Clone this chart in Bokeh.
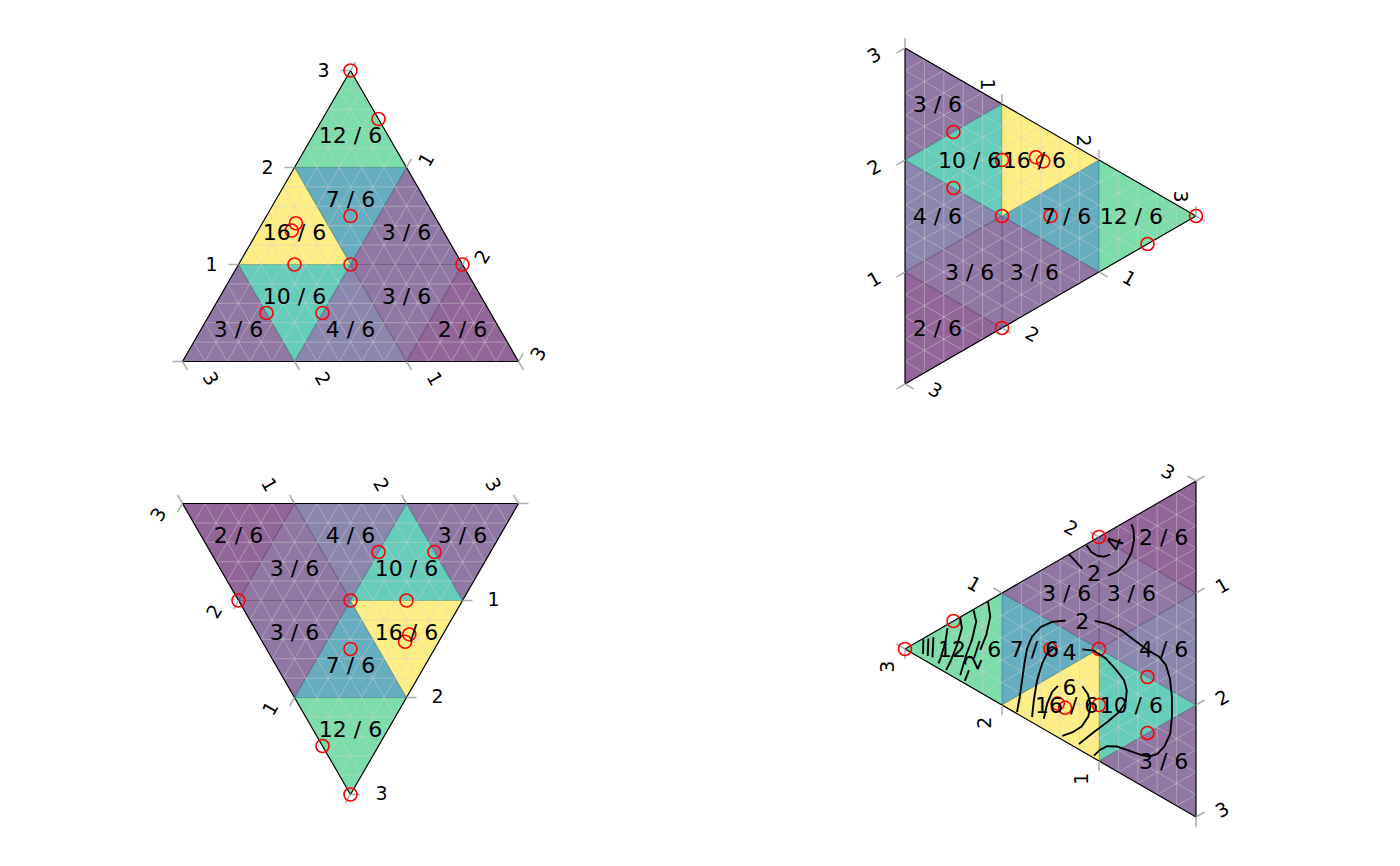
import numpy as np
from bokeh.plotting import figure
from bokeh.layouts import gridplot
from bokeh.models import Range1d
from bokeh.core.properties import value
from bokeh.embed import file_html
from bokeh.resources import INLINE

# ---------------- data ----------------
point_names = ["middle", "top", "belowTop", "leftSideSolid", "leftSideSolid2",
               "right3way", "rightEdge", "leftBorder", "topBorder", "rightBorder"]
point_a = [1, 3, 2, 9, 9.5, 1, 2.5, 1, 2, 1]
point_b = [1, 0, 1, 2, 2, 2, 0.5, 1, 1, 2]
point_c = [1, 0, 1, 9, 8.5, 0, 0, 4, 3, 3]

# density triangles (centroids on the 0-3 scale) and counts (shown as n / 6)
tri_a = [7/3, 4/3, 5/3, 4/3, 1/3, 2/3, 1/3, 2/3, 1/3]
tri_b = [1/3, 1/3, 2/3, 4/3, 1/3, 2/3, 4/3, 5/3, 7/3]
tri_c = [1/3, 4/3, 2/3, 1/3, 7/3, 5/3, 4/3, 2/3, 1/3]
tri_count = [12, 16, 7, 3, 3, 10, 4, 3, 2]
tri_denominator = 6

axis_ticks = [0, 1, 2, 3]
axis_tick_labels = ["", "1", "2", "3"]
major_grid = [1, 2]
minor_grid = [0.2, 0.4, 0.6, 0.8, 1.2, 1.4, 1.6, 1.8, 2.2, 2.4, 2.6, 2.8]

# density contours (last panel); (a, b) pairs, c = 3 - a - b
contour_top2_left = [(1.310, 1.690), (1.241, 1.661), (1.172, 1.630)]
contour_top2_right = [(0.907, 1.702), (0.810, 1.787), (0.724, 1.901), (0.666, 2.026),
                      (0.638, 2.160), (0.645, 2.246), (0.666, 2.281)]
contour_top4 = [(1.128, 1.861), (1.079, 1.826), (1.017, 1.824), (0.948, 1.850), (0.886, 1.899)]
contour_mid2_left = [(1.845, 0.015), (1.817, 0.163), (1.793, 0.325), (1.769, 0.487),
                     (1.741, 0.636), (1.690, 0.766), (1.603, 0.893), (1.483, 1.001), (1.345, 1.082)]
contour_mid2_right = [(1.041, 1.231), (0.914, 1.268), (0.776, 1.283), (0.638, 1.262),
                      (0.500, 1.241), (0.379, 1.241), (0.310, 1.201), (0.269, 1.102),
                      (0.248, 0.948), (0.248, 0.768), (0.266, 0.610), (0.321, 0.477),
                      (0.397, 0.365), (0.483, 0.298), (0.569, 0.270), (0.690, 0.248),
                      (0.810, 0.224), (0.914, 0.175), (0.990, 0.104), (1.052, 0.022)]
contour_mid4_left = [(1.690, 0.047), (1.672, 0.206), (1.638, 0.403), (1.586, 0.578),
                     (1.534, 0.694), (1.448, 0.791)]
contour_mid4_right = [(1.172, 0.911), (1.052, 0.959), (0.931, 0.951), (0.828, 0.904),
                      (0.741, 0.851), (0.714, 0.775), (0.724, 0.665), (0.793, 0.541),
                      (0.914, 0.391), (1.052, 0.232), (1.207, 0.049)]
contour_mid6_left = [(1.569, 0.093), (1.534, 0.245), (1.483, 0.376), (1.424, 0.459)]
contour_mid6_right = [(1.172, 0.582), (1.114, 0.539), (1.086, 0.454), (1.110, 0.343),
                      (1.179, 0.219), (1.276, 0.117), (1.379, 0.035)]
contour_tip1 = [(2.810, 0.182), (2.814, 0.048)]
contour_tip2 = [(2.759, 0.214), (2.766, 0.054)]
contour_tip3 = [(2.707, 0.252), (2.717, 0.067)]
contour_tip4 = [(2.562, 0.405), (2.583, 0.275), (2.628, 0.117), (2.655, 0.044)]
contour_tip5 = [(2.431, 0.570), (2.414, 0.479), (2.459, 0.316), (2.528, 0.131), (2.576, 0.023)]
contour_tip6 = [(2.293, 0.700), (2.266, 0.613), (2.310, 0.426), (2.369, 0.262), (2.431, 0.051)]
contour_tip7_upper = [(2.145, 0.853), (2.121, 0.730), (2.162, 0.545), (2.224, 0.380)]
contour_tip7_lower = [(2.341, 0.141), (2.383, 0.024)]
contour_label_text = ["2", "4", "2", "4", "6", "2"]
contour_label_a = [1.052, 0.838, 1.172, 1.303, 1.303, 2.300]
contour_label_b = [1.653, 2.024, 1.160, 0.824, 0.510, 0.236]
contour_label_angle = [0, 72, 0, 0, 0, 68]

contour_segments = [contour_top2_left, contour_top2_right, contour_top4,
                    contour_mid2_left, contour_mid2_right, contour_mid4_left,
                    contour_mid4_right, contour_mid6_left, contour_mid6_right,
                    contour_tip1, contour_tip2, contour_tip3, contour_tip4,
                    contour_tip5, contour_tip6, contour_tip7_upper, contour_tip7_lower]

# ---------------- layout / style ----------------
W, H = 700, 433
K = 112.0          # pixels per ternary unit (side = 3 units)
S3 = np.sqrt(3.0)
FONT = value("DejaVu Sans")
TICK_LEN = 10.0


def hcl_hex(L, C, Hh):
    """polarLUV (HCL) -> sRGB hex, D65 white (as R's hcl())."""
    Xn, Yn, Zn = 95.047, 100.0, 108.883
    h = np.radians(Hh)
    U, V = C * np.cos(h), C * np.sin(h)
    Y = Yn * (((L + 16) / 116) ** 3 if L > 7.999592 else L / 903.3)
    t = Xn + Yn + Zn
    x, y = Xn / t, Yn / t
    uN = 2 * x / (6 * y - x + 1.5)
    vN = 4.5 * y / (6 * y - x + 1.5)
    u = U / (13 * L) + uN
    v = V / (13 * L) + vN
    X = 9.0 * Y * u / (4 * v)
    Z = -X / 3 - 5 * Y + 3 * Y / v

    def g(c):
        c = c / Yn
        c = 1.055 * c ** (1 / 2.4) - 0.055 if c > 0.00304 else 12.92 * c
        return int(round(min(max(c, 0.0), 1.0) * 255))
    r = g(3.240479 * X - 1.537150 * Y - 0.498535 * Z)
    gg = g(-0.969256 * X + 1.875992 * Y + 0.041556 * Z)
    b = g(0.055648 * X - 0.204043 * Y + 1.057311 * Z)
    return "#%02x%02x%02x" % (r, gg, b)


def hcl_viridis(tval):
    # hcl.colors(palette = "viridis") sequential spec
    i = 1 - tval
    Hh = 75 - (75 - 300) * i
    C = 95 - (95 - 40) * i
    L = 90 - (90 - 15) * i ** 1.1
    return hcl_hex(L, C, Hh)


def to_xy(a, b, c, theta):
    a = np.asarray(a, float); b = np.asarray(b, float); c = np.asarray(c, float)
    s = a + b + c
    a3, b3 = 3 * a / s, 3 * b / s
    x = b3 + a3 / 2 - 1.5
    y = a3 * S3 / 2 - 0.75 * S3
    t = np.radians(theta)
    return x * np.cos(t) - y * np.sin(t), x * np.sin(t) + y * np.cos(t)


def rot(dx, dy, theta):
    t = np.radians(theta)
    return dx * np.cos(t) - dy * np.sin(t), dx * np.sin(t) + dy * np.cos(t)


def axis_base(axis, v):
    if axis == "a":
        return (v, 0, 3 - v)
    if axis == "b":
        return (3 - v, v, 0)
    return (0, 3 - v, v)


tick_dirs = {"a": (-1.0, 0.0), "b": (0.5, S3 / 2), "c": (0.5, -S3 / 2)}

lo, hi = min(tri_count), max(tri_count)
tri_colors = [hcl_viridis(round((n - lo) / (hi - lo) * 255) / 255) for n in tri_count]

panels = [
    dict(theta=0, off={"a": (-27, -0.5), "b": (19.5, -8), "c": (28.5, 17)}, contour=False),
    dict(theta=-90, off={"a": (-14.5, -19.5), "b": (30.5, 6), "c": (-31, 7)}, contour=False),
    dict(theta=180, off={"a": (31, -1.5), "b": (-24.5, 10.7), "c": (-25, -19)}, contour=False),
    dict(theta=90, off={"a": (-18.3, 17.6), "b": (-27.8, -9.3), "c": (26, -7.5)}, contour=True),
]


def grid_lines(values, theta):
    xs, ys = [], []
    for v in values:
        for p0, p1 in [((v, 0, 3 - v), (v, 3 - v, 0)),
                       ((0, v, 3 - v), (3 - v, v, 0)),
                       ((0, 3 - v, v), (3 - v, 0, v))]:
            x, y = to_xy([p0[0], p1[0]], [p0[1], p1[1]], [p0[2], p1[2]], theta)
            xs.append(list(x)); ys.append(list(y))
    return xs, ys


def make_panel(cfg):
    th = cfg["theta"]
    p = figure(width=W, height=H, output_backend="svg", toolbar_location=None,
               x_range=Range1d(-W / 2 / K, W / 2 / K),
               y_range=Range1d(-(H / 2 + 1) / K, (H / 2 - 1) / K),
               x_axis_type=None, y_axis_type=None, min_border=0,
               outline_line_color=None, background_fill_color="white",
               border_fill_color="white")
    p.grid.visible = False

    # major grid (under the colour)
    xs, ys = grid_lines(major_grid, th)
    p.multi_line(xs, ys, line_color="#A9A9A9", line_width=1.2)

    # coloured density triangles
    pxs, pys = [], []
    for a, b, c in zip(tri_a, tri_b, tri_c):
        if abs((a - 1 / 3) - round(a - 1 / 3)) < 1e-6:
            A, B, C = round(a - 1 / 3), round(b - 1 / 3), round(c - 1 / 3)
            verts = [(A + 1, B, C), (A, B + 1, C), (A, B, C + 1)]
        else:
            A, B, C = round(a + 1 / 3), round(b + 1 / 3), round(c + 1 / 3)
            verts = [(A - 1, B, C), (A, B - 1, C), (A, B, C - 1)]
        x, y = to_xy([v[0] for v in verts], [v[1] for v in verts], [v[2] for v in verts], th)
        pxs.append(list(x)); pys.append(list(y))
    p.patches(pxs, pys, fill_color=tri_colors, fill_alpha=0.6, line_color=None)

    # minor grid on top (light)
    xs, ys = grid_lines(minor_grid, th)
    p.multi_line(xs, ys, line_color="#D3D3D3", line_alpha=0.45, line_width=1)

    # outline
    x, y = to_xy([3, 0, 0, 3], [0, 3, 0, 0], [0, 0, 3, 0], th)
    p.line(x, y, line_color="black", line_width=1.2)

    # ticks and labels
    txs, tys = [], []
    lx, ly, lt, la = [], [], [], []
    for axis in ["a", "b", "c"]:
        dx, dy = rot(*tick_dirs[axis], th)
        ang = np.degrees(np.arctan2(dy, dx))
        ang = (ang + 90) % 180 - 90
        ox, oy = cfg["off"][axis]
        for v, lab in zip(axis_ticks, axis_tick_labels):
            bx, by = to_xy(*axis_base(axis, v), th)
            bx, by = float(bx), float(by)
            txs.append([bx, bx + dx * TICK_LEN / K])
            tys.append([by, by + dy * TICK_LEN / K])
            if lab:
                lx.append(bx + ox / K); ly.append(by - oy / K)
                lt.append(lab); la.append(np.radians(ang))
    p.multi_line(txs, tys, line_color="#B0B0B0", line_width=1.6)
    p.text(lx, ly, text=lt, angle=la, text_align="center", text_baseline="middle",
           text_font=FONT, text_font_size=value("19px"), text_color="black")

    # data points
    x, y = to_xy(point_a, point_b, point_c, th)
    p.scatter(x, y, marker="circle", size=13, fill_color=None, line_color="red", line_width=1.6)

    # density labels
    x, y = to_xy(tri_a, tri_b, tri_c, th)
    p.text(x, y, text=[f"{n} / {tri_denominator}" for n in tri_count],
           text_align="center", text_baseline="middle",
           text_font=FONT, text_font_size=value("22px"), text_color="black")

    if cfg["contour"]:
        cxs, cys = [], []
        for seg in contour_segments:
            a = [q[0] for q in seg]; b = [q[1] for q in seg]
            c = [3 - q[0] - q[1] for q in seg]
            x, y = to_xy(a, b, c, th)
            cxs.append(list(x)); cys.append(list(y))
        p.multi_line(cxs, cys, line_color="black", line_width=1.9)
        ca = np.array(contour_label_a); cb = np.array(contour_label_b)
        x, y = to_xy(ca, cb, 3 - ca - cb, th)
        p.text(x, y, text=contour_label_text, angle=list(np.radians(contour_label_angle)),
               text_align="center", text_baseline="middle",
               text_font=FONT, text_font_size=value("22px"), text_color="black")
    return p


figs = [make_panel(c) for c in panels]
grid = gridplot([[figs[0], figs[1]], [figs[2], figs[3]]], toolbar_location=None)

open("out.html", "w").write(file_html(grid, INLINE))
